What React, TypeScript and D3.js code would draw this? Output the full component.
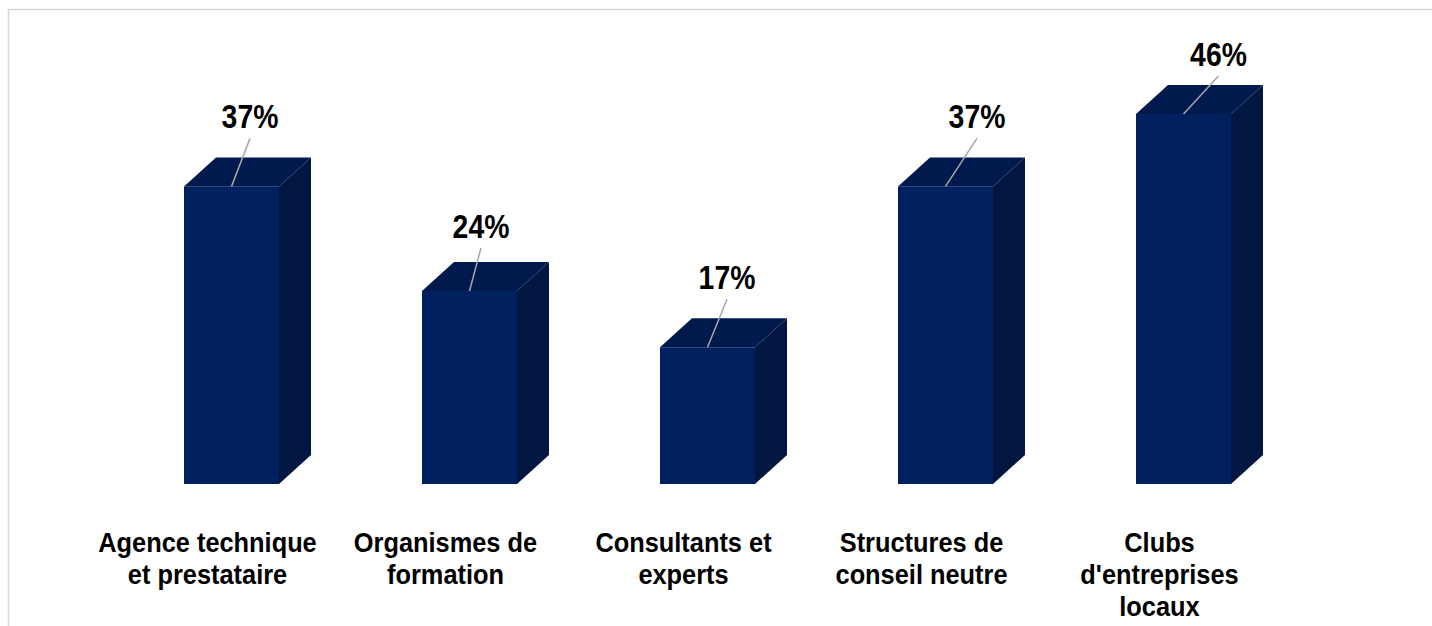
import React from "react";
import * as d3 from "d3";

const categories: string[][] = [
  ["Agence technique", "et prestataire"],
  ["Organismes de", "formation"],
  ["Consultants et", "experts"],
  ["Structures de", "conseil neutre"],
  ["Clubs", "d'entreprises", "locaux"],
];
const values: number[] = [37, 24, 17, 37, 46];
const valueLabels: string[] = ["37%", "24%", "17%", "37%", "46%"];

// label placement offsets (style) relative to bar front-top centre
const labelDx: number[] = [18.5, 11.5, 19.5, 31.5, 35];
const labelDy: number[] = [-58, -53, -58, -58, -48];

const W = 1432;
const H = 626;
const DX = 32;
const DY = 29;
const FRONT = "#012060";
const TOP = "#011a4e";
const SIDE = "#011641";
const FONT = "'Liberation Sans', Arial, sans-serif";

export default function App() {
  const keys = categories.map((c) => c.join(" "));
  const x = d3
    .scaleBand<string>()
    .domain(keys)
    .range([112.5, 1302.5])
    .paddingInner(0.6008)
    .paddingOuter(0.3004);
  const y = d3.scaleLinear().domain([0, 46]).range([484, 114]);
  const bw = x.bandwidth();
  const y0 = y(0);

  return (
    <svg
      width={W}
      height={H}
      style={{ position: "absolute", left: 0, top: 0, background: "#fff" }}
    >
      <rect x={8.5} y={9.5} width={1600} height={800} fill="#fff" stroke="#d9d9d9" strokeWidth={1.5} />
      {values.map((v, i) => {
        const x0 = x(keys[i]) as number;
        const x1 = x0 + bw;
        const yt = y(v);
        const cx = x0 + bw / 2;
        const lx = cx + labelDx[i];
        const ly = yt + labelDy[i];
        return (
          <g key={keys[i]}>
            <path
              d={`M${x1},${y0} L${x1 + DX},${y0 - DY} L${x1 + DX},${yt - DY} L${x1},${yt} Z`}
              fill={SIDE}
            />
            <path
              d={`M${x0},${yt} L${x0 + DX},${yt - DY} L${x1 + DX},${yt - DY} L${x1},${yt} Z`}
              fill={TOP}
            />
            <rect x={x0} y={yt} width={bw} height={y0 - yt} fill={FRONT} />
            <line x1={cx} y1={yt} x2={lx} y2={ly + 10} stroke="#a6a6a6" strokeWidth={1.5} />
            <text
              transform={`translate(${lx},${ly}) scale(0.86,1)`}
              textAnchor="middle"
              fontFamily={FONT}
              fontWeight="bold"
              fontSize={33}
              fill="#000"
            >
              {valueLabels[i]}
            </text>
            {categories[i].map((line, j) => (
              <text
                key={j}
                transform={`translate(${cx - 24},${552 + j * 32}) scale(0.94,1)`}
                textAnchor="middle"
                fontFamily={FONT}
                fontWeight="bold"
                fontSize={27}
                fill="#000"
              >
                {line}
              </text>
            ))}
          </g>
        );
      })}
    </svg>
  );
}
